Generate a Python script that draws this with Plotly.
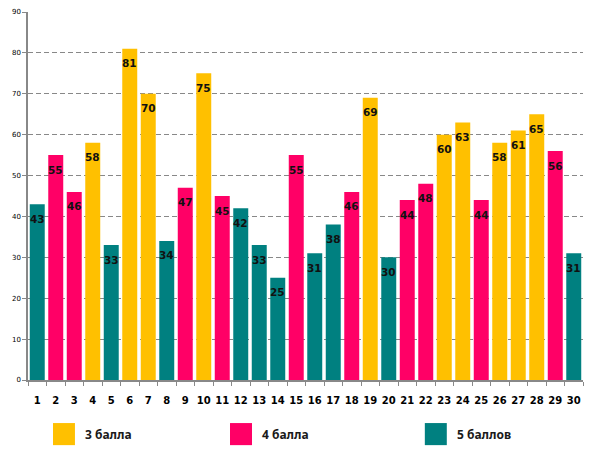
import plotly.graph_objects as go

categories = [str(i) for i in range(1, 31)]
values = [43, 55, 46, 58, 33, 81, 70, 34, 47, 75, 45, 42, 33, 25, 55,
          31, 38, 46, 69, 30, 44, 48, 60, 63, 44, 58, 61, 65, 56, 31]
grades = ["5", "4", "4", "3", "5", "3", "3", "5", "4", "3", "4", "5", "5", "5", "4",
          "5", "5", "4", "3", "5", "4", "4", "3", "3", "4", "3", "3", "3", "4", "5"]
series_names = {"3": "3 балла", "4": "4 балла", "5": "5 баллов"}
series_colors = {"3": "#FFC000", "4": "#FF0066", "5": "#008080"}
y_ticks = list(range(0, 100, 10))

fig = go.Figure()
for g in ["3", "4", "5"]:
    xs = [c for c, gg in zip(categories, grades) if gg == g]
    ys = [v for v, gg in zip(values, grades) if gg == g]
    fig.add_trace(go.Bar(
        x=xs, y=ys, name=series_names[g],
        marker=dict(color=series_colors[g], line=dict(width=0)),
        showlegend=False, hoverinfo="x+y",
    ))

# value labels placed inside the top of each bar (category index on the x axis)
for i, v in enumerate(values):
    fig.add_annotation(x=i, y=v, xref="x", yref="y", text=str(v),
                       showarrow=False, yanchor="middle", yshift=-14.5,
                       font=dict(family="DejaVu Sans", size=10.5, color="#111111",
                                 weight="bold"))

fig.update_layout(
    width=584, height=446,
    margin=dict(l=20, r=9, t=4, b=74),
    paper_bgcolor="white", plot_bgcolor="white",
    barmode="overlay", bargap=0.19,
    font=dict(family="DejaVu Sans", color="#000000"),
)
fig.update_xaxes(
    type="category", categoryorder="array", categoryarray=categories,
    range=[-0.5, len(categories) - 0.5], automargin=False,
    tickson="boundaries", ticks="outside", ticklen=4, tickcolor="#888888",
    showline=True, linecolor="#888888", linewidth=1.5,
    showgrid=False, tickangle=0, ticklabelstandoff=10,
    tickfont=dict(family="DejaVu Sans", size=10, color="#000000", weight="bold"),
)
fig.update_yaxes(
    range=[0, 90], tickvals=y_ticks, ticktext=[str(t) for t in y_ticks],
    automargin=False,
    ticks="outside", ticklen=4, tickcolor="#888888",
    showline=True, linecolor="#888888", linewidth=1.5,
    showgrid=True, gridcolor="#888888", griddash="5px,3px", gridwidth=1,
    zeroline=False,
    tickfont=dict(family="DejaVu Sans", size=7, color="#000000"),
)

# legend drawn below the plot
legend_x = [0.045, 0.364, 0.715]
for (g, lx) in zip(["3", "4", "5"], legend_x):
    fig.add_shape(type="rect", xref="paper", yref="paper",
                  x0=lx, x1=lx + 0.0396, y0=-0.117, y1=-0.177,
                  fillcolor=series_colors[g], line=dict(width=0))
    fig.add_annotation(xref="paper", yref="paper", x=lx + 0.054, y=-0.147,
                       text=series_names[g], showarrow=False, xanchor="left",
                       yanchor="middle",
                       font=dict(family="Noto Sans", size=12, color="#1a1a1a", weight="bold"))

fig.write_html("out.html")
